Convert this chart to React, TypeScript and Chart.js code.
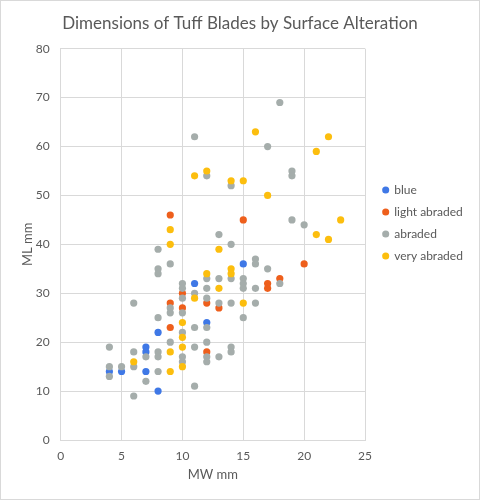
import React, { useEffect, useRef } from "react";
import { Chart, registerables } from "chart.js";

Chart.register(...registerables);

const titleText = "Dimensions of Tuff Blades by Surface Alteration";
const xAxisTitle = "MW mm";
const yAxisTitle = "ML mm";
const seriesNames = ["blue", "light abraded", "abraded", "very abraded"];
const seriesColors = ["#3F78E6", "#EE5F1C", "#A5ADAB", "#FCBE0E"];

const blueMW = [4, 5, 7, 7, 7, 8, 8, 11, 12, 15];
const blueML = [14, 14, 19, 18, 14, 22, 10, 32, 24, 36];

const lightMW = [9, 9, 9, 10, 10, 12, 12, 13, 15, 17, 17, 18, 20];
const lightML = [46, 28, 23, 30, 27, 28, 18, 27, 45, 32, 31, 33, 36];

const abradedMW = [
  4, 4, 4, 5, 6, 6, 6, 6, 7, 7,
  8, 8, 8, 8, 8, 8, 8, 9, 9, 9, 9,
  10, 10, 10, 10, 10, 10, 10, 11, 11, 11, 11, 11,
  12, 12, 12, 12, 12, 12, 12, 12, 13, 13, 13, 13,
  14, 14, 14, 14, 14, 14, 15, 15, 15, 15, 16, 16, 16, 16,
  17, 17, 18, 18, 19, 19, 19, 20,
];
const abradedML = [
  19, 15, 13, 15, 28, 18, 15, 9, 17, 12,
  39, 35, 34, 25, 18, 17, 14, 36, 27, 26, 20,
  32, 31, 29, 26, 22, 17, 16, 62, 30, 23, 19, 11,
  54, 33, 31, 29, 23, 20, 17, 16, 42, 33, 28, 17,
  52, 40, 33, 28, 19, 18, 33, 32, 31, 25, 37, 36, 31, 28,
  60, 35, 69, 32, 55, 54, 45, 44,
];

const veryMW = [6, 9, 9, 9, 9, 10, 10, 10, 10, 11, 11, 12, 12, 13, 13, 14, 14, 14, 15, 15, 16, 17, 21, 21, 22, 22, 23];
const veryML = [16, 43, 40, 18, 14, 24, 21, 19, 15, 54, 29, 55, 34, 39, 31, 53, 35, 34, 53, 28, 63, 50, 59, 42, 62, 41, 45];

const xMin = 0, xMax = 25, xStep = 5;
const yMin = 0, yMax = 80, yStep = 10;

const FONT = "Lato, 'Open Sans', sans-serif";
const TEXT = "#595959";
const GRID = "#d9d9d9";

const CW = 478, CH = 498;
const PLOT_LEFT = 59.7, PLOT_RIGHT = 364, PLOT_TOP = 47.7, PLOT_BOTTOM = 439;
const LEG_LEFT = 372.2, LEG_TOP = 173;

function pts(xs: number[], ys: number[]) {
  return xs.map((x, i) => ({ x, y: ys[i] }));
}

const legendPlacer = {
  id: "legendPlacer",
  beforeLayout(chart: any) {
    const l = chart.legend;
    if (l && !l._fixedFit) {
      const orig = l.fit.bind(l);
      l.fit = () => {
        orig();
        l.width = CW - PLOT_RIGHT;
      };
      l._fixedFit = true;
    }
  },
  afterLayout(chart: any) {
    const l = chart.legend;
    if (!l) return;
    const w = l.width;
    l.left = LEG_LEFT;
    l.right = LEG_LEFT + w;
    l.top = LEG_TOP;
    l.bottom = LEG_TOP + 200;
  },
};

export default function App() {
  const ref = useRef<HTMLCanvasElement | null>(null);
  useEffect(() => {
    if (!ref.current) return;
    const all = [pts(blueMW, blueML), pts(lightMW, lightML), pts(abradedMW, abradedML), pts(veryMW, veryML)];
    const chart = new Chart(ref.current, {
      type: "scatter",
      data: {
        datasets: all.map((d, i) => ({
          label: seriesNames[i],
          data: d,
          backgroundColor: seriesColors[i],
          borderColor: seriesColors[i],
          borderWidth: 0,
          pointRadius: 3.6,
          pointStyle: "circle",
          order: 3 - i,
        })),
      },
      options: {
        responsive: false,
        animation: false,
        events: [],
        layout: { padding: 0 },
        plugins: {
          tooltip: { enabled: false },
          title: {
            display: true,
            text: titleText,
            color: TEXT,
            font: { family: FONT, size: 17, weight: "normal" },
            padding: { top: 12.3, bottom: PLOT_TOP - 12.3 - 17 * 1.2 },
          },
          legend: {
            display: true,
            position: "right",
            align: "start",
            fullSize: false,
            labels: {
              usePointStyle: true,
              boxWidth: 5,
              boxHeight: 5,
              padding: 10,
              color: TEXT,
              font: { family: FONT, size: 12 },
              sort: (a: any, b: any) => a.datasetIndex - b.datasetIndex,
            },
          },
        },
        scales: {
          x: {
            type: "linear",
            min: xMin,
            max: xMax,
            ticks: { stepSize: xStep, color: TEXT, padding: 9, font: { family: FONT, size: 12 } },
            grid: { color: GRID, drawTicks: false },
            border: { color: GRID },
            title: {
              display: true,
              text: xAxisTitle,
              color: TEXT,
              font: { family: FONT, size: 13 },
              padding: { top: 0, bottom: 16.2 },
            },
            afterFit: (s: any) => { s.height = CH - PLOT_BOTTOM; },
          },
          y: {
            type: "linear",
            min: yMin,
            max: yMax,
            ticks: { stepSize: yStep, color: TEXT, padding: 11, font: { family: FONT, size: 12 } },
            grid: { color: GRID, drawTicks: false },
            border: { color: GRID },
            title: {
              display: true,
              text: yAxisTitle,
              color: TEXT,
              font: { family: FONT, size: 13 },
              padding: { top: 19, bottom: 0 },
            },
            afterFit: (s: any) => { s.width = PLOT_LEFT; },
          },
        },
      },
      plugins: [legendPlacer],
    } as any);
    return () => chart.destroy();
  }, []);

  return (
    <div
      style={{
        position: "absolute",
        left: 0,
        top: 0,
        width: 480,
        height: 500,
        boxSizing: "border-box",
        border: "1px solid #d9d9d9",
        background: "#fff",
      }}
    >
      <canvas ref={ref} width={CW} height={CH} style={{ display: "block" }} />
    </div>
  );
}
